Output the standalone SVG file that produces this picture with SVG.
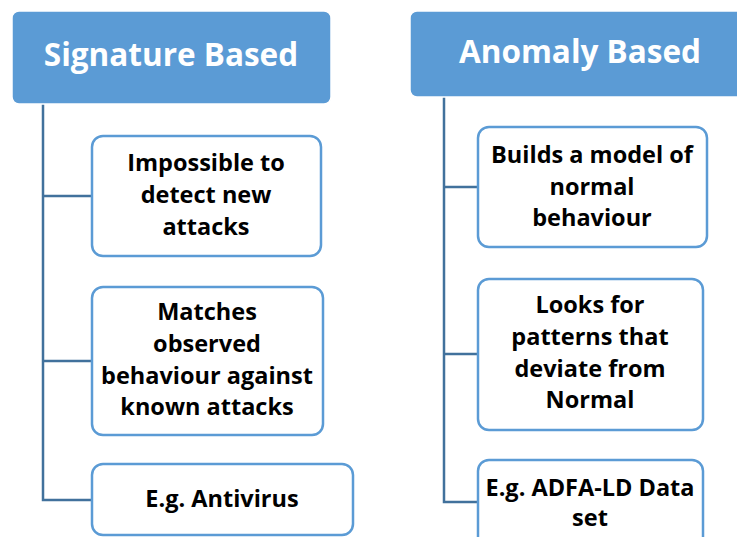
<svg xmlns="http://www.w3.org/2000/svg" width="737" height="537" viewBox="0 0 737 537">
  <style>
    .head rect { fill: #5B9BD5; stroke: #FFFFFF; stroke-width: 1.5; }
    .head text { fill: #FFFFFF; font-family: "Open Sans", "Liberation Sans", sans-serif; font-weight: bold; font-size: 31.5px; text-anchor: middle; }
    .item rect { fill: #FFFFFF; stroke: #5B9BD5; stroke-width: 2.5; }
    .item text { fill: #000000; font-family: "Open Sans", "Liberation Sans", sans-serif; font-weight: bold; font-size: 23.5px; text-anchor: middle; }
    .links path { fill: none; stroke: #41719C; stroke-width: 2.5; }
  </style>

  <!-- connectors -->
  <g class="links">
    <path d="M43,104 V500 H92 M43,196 H92 M43,361 H92"/>
    <path d="M444,97 V502 H478 M444,187 H478 M444,354 H478"/>
  </g>

  <!-- left column -->
  <g id="signature" class="head">
    <rect x="12" y="11" width="319" height="93" rx="7"/>
    <text x="171" y="66">Signature Based</text>
  </g>
  <g id="sig-new" class="item">
    <rect x="92" y="136" width="229" height="120" rx="11"/>
    <text x="206" y="171">Impossible to</text>
    <text x="206" y="203">detect new</text>
    <text x="206" y="235">attacks</text>
  </g>
  <g id="sig-match" class="item">
    <rect x="92" y="287" width="231" height="148" rx="11"/>
    <text x="207" y="320">Matches</text>
    <text x="207" y="352">observed</text>
    <text x="207" y="384">behaviour against</text>
    <text x="207" y="415">known attacks</text>
  </g>
  <g id="sig-example" class="item">
    <rect x="92" y="464" width="261" height="71" rx="11"/>
    <text x="222" y="507">E.g. Antivirus</text>
  </g>

  <!-- right column -->
  <g id="anomaly" class="head">
    <rect x="410" y="11" width="340" height="86" rx="7"/>
    <text x="580" y="63">Anomaly Based</text>
  </g>
  <g id="ano-model" class="item">
    <rect x="478" y="127" width="229" height="120" rx="11"/>
    <text x="592" y="163">Builds a model of</text>
    <text x="592" y="195">normal</text>
    <text x="592" y="226">behaviour</text>
  </g>
  <g id="ano-patterns" class="item">
    <rect x="478" y="279" width="225" height="151" rx="11"/>
    <text x="590" y="313">Looks for</text>
    <text x="590" y="345">patterns that</text>
    <text x="590" y="377">deviate from</text>
    <text x="590" y="408">Normal</text>
  </g>
  <g id="ano-example" class="item">
    <rect x="478" y="460" width="225" height="90" rx="11"/>
    <text x="590" y="496">E.g. ADFA-LD Data</text>
    <text x="590" y="526">set</text>
  </g>
</svg>
